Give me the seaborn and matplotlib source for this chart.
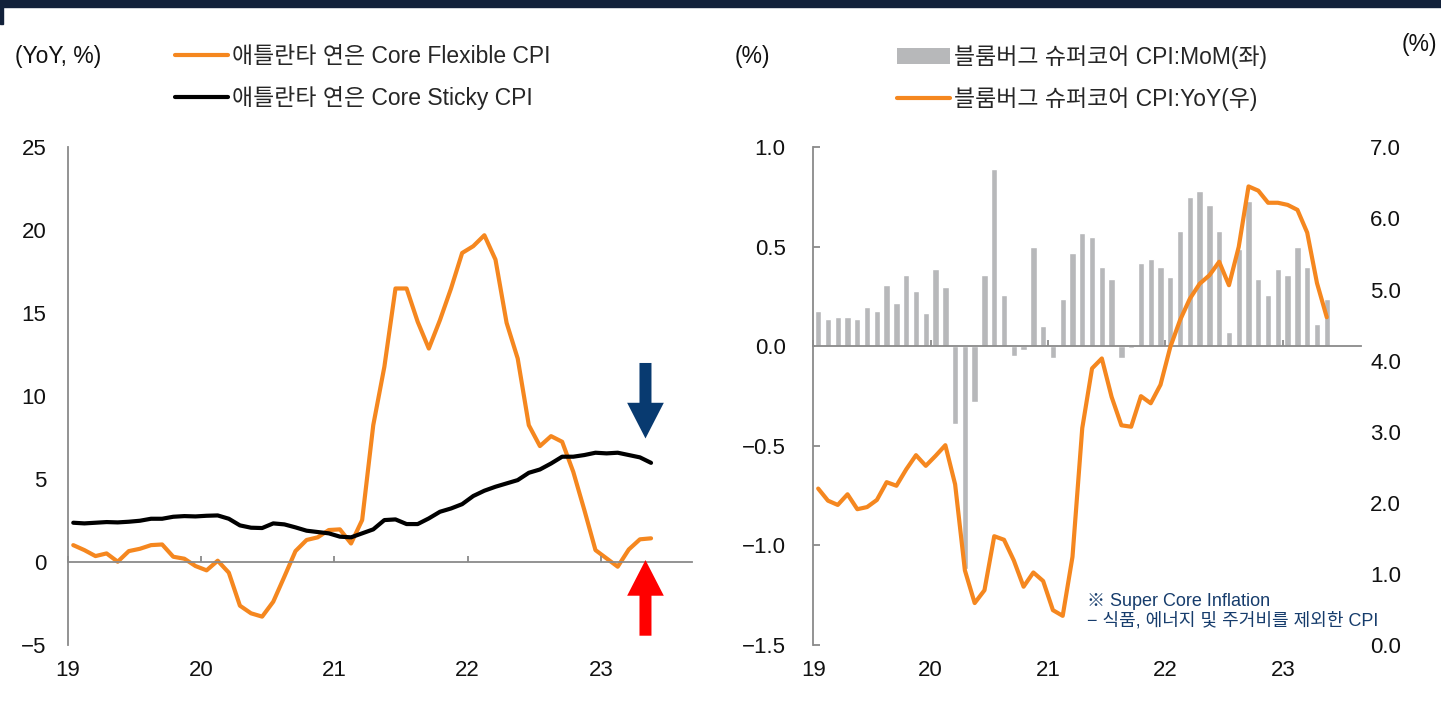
import numpy as np
import pandas as pd
import matplotlib
matplotlib.use("Agg")
import matplotlib.pyplot as plt
import seaborn as sns
from matplotlib.patches import Patch, Rectangle
from matplotlib.lines import Line2D

# ---------------- data ----------------
months = list(range(53))  # Jan 2019 .. May 2023, monthly
year_labels = ["19", "20", "21", "22", "23"]
year_tick_pos = [-0.5, 11.5, 23.5, 35.5, 47.5]

flex_cpi = [1.02, 0.72, 0.36, 0.52, 0.02, 0.66, 0.80, 1.02, 1.06, 0.32,
            0.20, -0.24, -0.50, 0.08, -0.64, -2.63, -3.09, -3.29, -2.39, -0.88,
            0.66, 1.33, 1.49, 1.93, 1.97, 1.12, 2.53, 8.25, 11.77, 16.49,
            16.49, 14.48, 12.87, 14.58, 16.49, 18.63, 19.04, 19.70, 18.23, 14.42,
            12.27, 8.25, 6.99, 7.59, 7.25, 5.44, 3.13, 0.72, 0.22, -0.28,
            0.76, 1.37, 1.43]
sticky_cpi = [2.37, 2.33, 2.37, 2.41, 2.39, 2.43, 2.49, 2.61, 2.61, 2.73,
              2.77, 2.75, 2.79, 2.81, 2.61, 2.21, 2.07, 2.05, 2.33, 2.27,
              2.09, 1.89, 1.81, 1.73, 1.53, 1.49, 1.73, 1.97, 2.53, 2.57,
              2.29, 2.29, 2.63, 3.03, 3.23, 3.49, 3.98, 4.30, 4.54, 4.74,
              4.94, 5.38, 5.58, 5.94, 6.35, 6.35, 6.45, 6.59, 6.55, 6.59,
              6.45, 6.31, 5.98]

supercore_mom = [0.18, 0.14, 0.15, 0.15, 0.14, 0.20, 0.18, 0.31, 0.22, 0.36,
                 0.28, 0.17, 0.39, 0.30, -0.39, -1.12, -0.28, 0.36, 0.89, 0.26,
                 -0.05, -0.02, 0.50, 0.10, -0.06, 0.24, 0.47, 0.57, 0.55, 0.40,
                 0.34, -0.06, -0.01, 0.42, 0.44, 0.40, 0.35, 0.58, 0.75, 0.78,
                 0.71, 0.58, 0.07, 0.49, 0.73, 0.34, 0.26, 0.39, 0.36, 0.50,
                 0.40, 0.11, 0.24]
supercore_yoy = [2.20, 2.03, 1.97, 2.12, 1.91, 1.94, 2.04, 2.29, 2.24, 2.47,
                 2.67, 2.52, 2.66, 2.81, 2.26, 1.05, 0.59, 0.77, 1.53, 1.48,
                 1.19, 0.82, 1.02, 0.90, 0.49, 0.41, 1.24, 3.05, 3.89, 4.03,
                 3.49, 3.09, 3.07, 3.50, 3.40, 3.66, 4.19, 4.57, 4.87, 5.08,
                 5.20, 5.39, 5.06, 5.60, 6.45, 6.39, 6.22, 6.22, 6.19, 6.12,
                 5.80, 5.09, 4.61]

left_yticks = [-5, 0, 5, 10, 15, 20, 25]
right_l_yticks = [-1.5, -1.0, -0.5, 0.0, 0.5, 1.0]
right_r_yticks = [0.0, 1.0, 2.0, 3.0, 4.0, 5.0, 6.0, 7.0]

lbl_flex = "애틀란타 연은 Core Flexible CPI"
lbl_sticky = "애틀란타 연은 Core Sticky CPI"
lbl_mom = "블룸버그 슈퍼코어 CPI:MoM(좌)"
lbl_yoy = "블룸버그 슈퍼코어 CPI:YoY(우)"
note_text = "※ Super Core Inflation\n− 식품, 에너지 및 주거비를 제외한 CPI"

# arrow annotations (month index, tail value, tip value)
down_arrow = (51.5, 12.0, 7.45)
up_arrow = (51.5, -4.44, 0.12)

# ---------------- style ----------------
sns.set_style("white")
plt.rcParams["font.family"] = ["Liberation Sans", "Noto Sans CJK KR", "DejaVu Sans"]
plt.rcParams["axes.unicode_minus"] = True

ORANGE = "#F5871F"
GRAY_AX = "#8a8a8a"
BAR = "#b7b8ba"
NAVY = "#083a70"
TXT = "#111111"
FS = 16
FS_LEG = 16.5

def fmt_minus(v, nd):
    s = f"{v:.{nd}f}"
    return s.replace("-", "−")

fig = plt.figure(figsize=(14.41, 7.11), dpi=100)
fig.patch.set_facecolor("white")
W, H = 1441, 711

def fx(px):
    return px / W

def fy(py):
    return 1 - py / H

# frame decoration
fig.patches.append(Rectangle((0, fy(7)), 1, 7 / H, transform=fig.transFigure,
                             color="#12213a", zorder=0))
fig.patches.append(Rectangle((0, fy(24)), 3 / W, 24 / H, transform=fig.transFigure,
                             color="#12213a", zorder=0))

def style_zero_axis(ax):
    sec = ax.secondary_xaxis(0, transform=ax.transData)
    sec.set_xticks(year_tick_pos)
    sec.tick_params(direction="in", length=4.5, width=1.3, color=GRAY_AX, labelbottom=False)
    for s in sec.spines.values():
        s.set_color(GRAY_AX)
        s.set_linewidth(1.3)
    sec.set_zorder(3)
    return sec

# ---------------- left chart ----------------
ax1 = fig.add_axes([fx(67.7), fy(645), fx(691.7) - fx(67.7), fy(147.3) - fy(645)])
sns.lineplot(x=months, y=flex_cpi, color=ORANGE, linewidth=3.0, ax=ax1, label=lbl_flex)
sns.lineplot(x=months, y=sticky_cpi, color="black", linewidth=3.0, ax=ax1, label=lbl_sticky)
ax1.set_xlim(-0.5, 55.66)
ax1.set_ylim(-5, 25)
ax1.set_yticks(left_yticks)
ax1.set_yticklabels([fmt_minus(v, 0) for v in left_yticks])
ax1.set_xticks(year_tick_pos)
ax1.set_xticklabels(year_labels)
for s in ["top", "right", "bottom"]:
    ax1.spines[s].set_visible(False)
ax1.spines["left"].set_color(GRAY_AX)
ax1.spines["left"].set_linewidth(1.3)
ax1.tick_params(axis="y", direction="in", length=5, width=1.3, color=GRAY_AX,
                labelsize=FS, labelcolor=TXT, pad=15.5)
ax1.tick_params(axis="x", length=0, labelsize=FS, labelcolor=TXT, pad=11)
ax1.set_xlabel("")
ax1.set_ylabel("")
style_zero_axis(ax1)
ax1.legend_.remove()

# arrows
ax1.arrow(down_arrow[0], down_arrow[1], 0, down_arrow[2] - down_arrow[1],
          width=1.08, head_width=3.3, head_length=2.15, length_includes_head=True,
          color=NAVY, linewidth=0, zorder=5)
ax1.arrow(up_arrow[0], up_arrow[1], 0, up_arrow[2] - up_arrow[1],
          width=1.08, head_width=3.3, head_length=2.15, length_includes_head=True,
          color="#ff0000", linewidth=0, zorder=5)

h1 = [Line2D([0], [0], color=ORANGE, lw=3.0), Line2D([0], [0], color="black", lw=3.0)]
fig.legend(h1, [lbl_flex, lbl_sticky], loc="upper left",
           bbox_to_anchor=(fx(175), fy(45)), frameon=False, fontsize=FS_LEG,
           handlelength=2.3, handletextpad=0.17, labelspacing=0.8,
           borderpad=0, borderaxespad=0)
fig.text(fx(15), fy(57), "(YoY, %)", fontsize=FS_LEG, va="center", ha="left", color=TXT)

# ---------------- right chart ----------------
ax2 = fig.add_axes([fx(813.3), fy(645), fx(1361) - fx(813.3), fy(147.3) - fy(645)])
sns.barplot(x=months, y=supercore_mom, color=BAR, saturation=1, width=0.65,
            ax=ax2, label=lbl_mom)
ax2.set_xlim(-0.5, 55.5)
ax2.set_ylim(-1.5, 1.0)
ax2.set_yticks(right_l_yticks)
ax2.set_yticklabels([fmt_minus(v, 1) for v in right_l_yticks])
ax2.set_xticks(year_tick_pos)
ax2.set_xticklabels(year_labels)
for s in ["top", "right", "bottom"]:
    ax2.spines[s].set_visible(False)
ax2.spines["left"].set_color(GRAY_AX)
ax2.spines["left"].set_linewidth(1.3)
ax2.tick_params(axis="y", direction="in", length=5, width=1.3, color=GRAY_AX,
                labelsize=FS, labelcolor=TXT, pad=20)
ax2.tick_params(axis="x", length=0, labelsize=FS, labelcolor=TXT, pad=11)
ax2.set_xlabel("")
ax2.set_ylabel("")
style_zero_axis(ax2)
if ax2.legend_ is not None:
    ax2.legend_.remove()

ax2r = ax2.twinx()
sns.lineplot(x=months, y=supercore_yoy, color=ORANGE, linewidth=3.0, ax=ax2r, label=lbl_yoy)
ax2r.set_ylim(0, 7)
ax2r.set_yticks(right_r_yticks)
ax2r.set_yticklabels([fmt_minus(v, 1) for v in right_r_yticks])
for s in ax2r.spines.values():
    s.set_visible(False)
ax2r.tick_params(axis="y", length=0, labelsize=FS, labelcolor=TXT, pad=6.5)
ax2r.set_ylabel("")
if ax2r.legend_ is not None:
    ax2r.legend_.remove()
ax2.set_xlim(-0.5, 55.5)

h2 = [Patch(facecolor=BAR, edgecolor="none"), Line2D([0], [0], color=ORANGE, lw=3.0)]
fig.legend(h2, [lbl_mom, lbl_yoy], loc="upper left",
           bbox_to_anchor=(fx(897), fy(45)), frameon=False, fontsize=FS_LEG,
           handlelength=2.3, handletextpad=0.17, labelspacing=0.8,
           borderpad=0, borderaxespad=0)
fig.text(fx(735), fy(57), "(%)", fontsize=FS_LEG, va="center", ha="left", color=TXT)
fig.text(fx(1437), fy(45), "(%)", fontsize=FS_LEG, va="center", ha="right", color=TXT)

ax2r.text(0.4997, (645 - 611.5) / (645 - 147.3), note_text, transform=ax2r.transAxes,
          fontsize=13, color="#163c6c", ha="left", va="center", linespacing=1.15)

fig.savefig("out.png", dpi=100, facecolor="white")
